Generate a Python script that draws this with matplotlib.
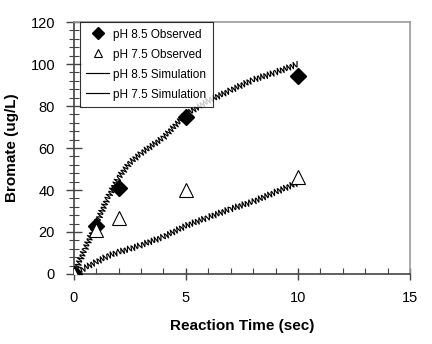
import matplotlib.pyplot as plt
from matplotlib.ticker import MultipleLocator

plt.rcParams['font.family'] = ['Liberation Sans', 'DejaVu Sans']

# measured bromate
obs_time = [0, 1, 2, 5, 10]
obs_ph85 = [0, 23, 41, 75, 94.5]
obs_ph75 = [0, 21, 26.5, 40, 46]

# model output
sim_time = [0, 0.5, 1, 1.5, 2, 2.5, 3, 4, 5, 6, 7, 8, 9, 10]
sim_ph85 = [0, 12, 24, 36, 46, 53, 57.5, 65, 76, 82.5, 87.5, 92.5, 96, 100]
sim_ph75 = [0, 3, 5.7, 8.5, 10.5, 12, 13.8, 17.7, 23, 27, 31, 34.5, 39, 43.5]

fig = plt.figure(figsize=(4.32, 3.44), dpi=100)
ax = fig.add_axes([0.171, 0.2035, 0.778, 0.7325])

l1, = ax.plot(sim_time, sim_ph85, color='black', lw=0.85, label='pH 8.5 Simulation', zorder=2)
l2, = ax.plot(sim_time, sim_ph75, color='black', lw=0.85, label='pH 7.5 Simulation', zorder=2)
for ln in (l1, l2):
    ln.set_sketch_params(scale=3.2, length=3.4, randomness=1.0)

m1, = ax.plot(obs_time, obs_ph85, 'D', color='black', ms=8, ls='none', label='pH 8.5 Observed', zorder=3)
m2, = ax.plot(obs_time, obs_ph75, '^', mfc='white', mec='black', mew=0.8, ms=10, ls='none',
              label='pH 7.5 Observed', zorder=3)

ax.set_xlim(0, 15)
ax.set_ylim(0, 120)
ax.xaxis.set_major_locator(MultipleLocator(5))
ax.xaxis.set_minor_locator(MultipleLocator(1))
ax.yaxis.set_major_locator(MultipleLocator(20))
ax.yaxis.set_minor_locator(MultipleLocator(4))
ax.tick_params(axis='x', which='major', direction='inout', length=9, width=1, colors='#444444',
               labelcolor='black', labelsize=10.5, pad=8)
ax.tick_params(axis='x', which='minor', direction='in', length=4, width=0.8, colors='#444444')
ax.tick_params(axis='y', which='major', direction='inout', length=11, width=1, colors='#444444',
               labelcolor='black', labelsize=10.5, pad=8)
ax.tick_params(axis='y', which='minor', direction='inout', length=7, width=0.8, colors='#444444')

for side in ('left', 'bottom'):
    ax.spines[side].set_color('#444444')
    ax.spines[side].set_linewidth(1.2)
for side in ('top', 'right'):
    ax.spines[side].set_color('#999999')
    ax.spines[side].set_linewidth(1.2)

ax.set_xlabel('Reaction Time (sec)', fontsize=11, fontweight='bold', labelpad=10)
ax.set_ylabel('Bromate (ug/L)', fontsize=11, fontweight='bold', labelpad=8)

leg = ax.legend(handles=[m1, m2, l1, l2], loc='upper left', bbox_to_anchor=(0.018, 1.0),
                fontsize=8.5, frameon=True, fancybox=False, edgecolor='black',
                handlelength=1.9, borderpad=0.55, labelspacing=0.68, handletextpad=0.35,
                borderaxespad=0.0)
leg.get_frame().set_linewidth(0.8)
for h in leg.legend_handles[:2]:
    h.set_markersize(6)
for h in leg.legend_handles[2:]:
    h.set_sketch_params(None)

fig.savefig('out.png', dpi=100)
